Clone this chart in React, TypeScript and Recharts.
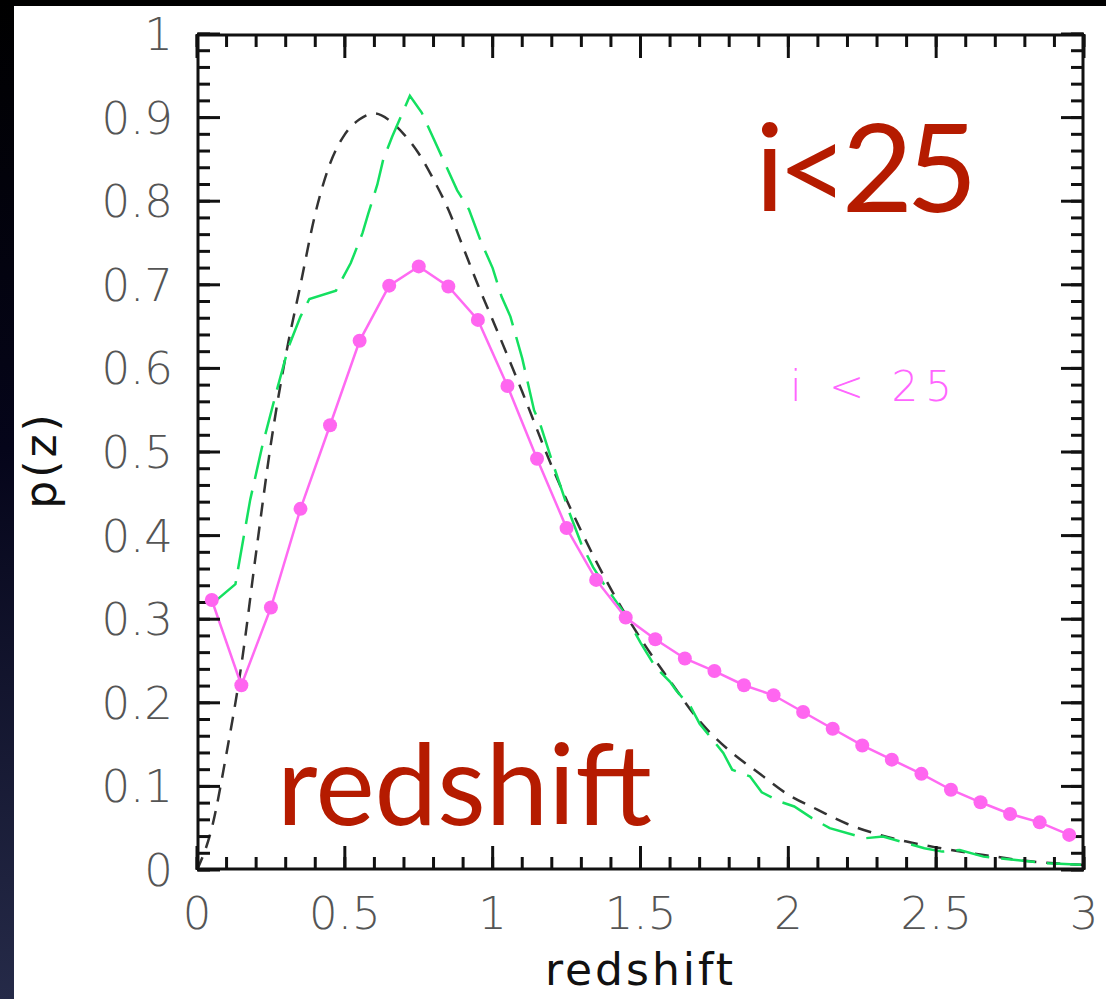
import { LineChart, Line, XAxis, YAxis } from 'recharts';

// binned p(z), one point per 0.1 bin
const binCenters = [
  0.05, 0.15, 0.25, 0.35, 0.45, 0.55, 0.65, 0.75, 0.85, 0.95,
  1.05, 1.15, 1.25, 1.35, 1.45, 1.55, 1.65, 1.75, 1.85, 1.95,
  2.05, 2.15, 2.25, 2.35, 2.45, 2.55, 2.65, 2.75, 2.85, 2.95,
];
const binnedP = [
  0.323, 0.221, 0.314, 0.432, 0.532, 0.633, 0.699, 0.722, 0.698, 0.658,
  0.579, 0.492, 0.409, 0.347, 0.302, 0.276, 0.253, 0.238, 0.221, 0.209,
  0.189, 0.169, 0.149, 0.132, 0.115, 0.096, 0.081, 0.067, 0.057, 0.042,
];

// green long-dashed estimate
const greenZ = [
  0.05, 0.13, 0.18, 0.22, 0.27, 0.31, 0.35, 0.38, 0.47, 0.52, 0.56, 0.58,
  0.61, 0.63, 0.66, 0.72, 0.76, 0.8, 0.88, 0.92, 0.96, 1.0, 1.03, 1.06,
  1.1, 1.14, 1.16, 1.2, 1.26, 1.3, 1.34, 1.38, 1.44, 1.5, 1.55, 1.6,
  1.62, 1.67, 1.7, 1.78, 1.81, 1.87, 1.91, 1.97, 2.02, 2.08, 2.14, 2.26,
  2.32, 2.46, 2.52, 2.58, 2.66, 2.77, 2.88, 3.0,
];
const greenP = [
  0.318, 0.342, 0.443, 0.506, 0.574, 0.626, 0.662, 0.683, 0.693, 0.726, 0.762, 0.786,
  0.82, 0.85, 0.877, 0.926, 0.906, 0.875, 0.813, 0.79, 0.752, 0.72, 0.686, 0.662,
  0.612, 0.55, 0.534, 0.49, 0.427, 0.39, 0.362, 0.34, 0.31, 0.272, 0.243, 0.225,
  0.215, 0.195, 0.175, 0.14, 0.12, 0.112, 0.093, 0.082, 0.076, 0.062, 0.05, 0.038,
  0.04, 0.026, 0.022, 0.024, 0.016, 0.012, 0.008, 0.006,
];

// smooth model curve (black short dashes)
const modelZ = [
  0, 0.05, 0.1, 0.15, 0.2, 0.25, 0.3, 0.35, 0.4, 0.45, 0.5, 0.55, 0.6, 0.65,
  0.7, 0.75, 0.8, 0.85, 0.9, 0.95, 1.0, 1.1, 1.2, 1.3, 1.4, 1.5, 1.6, 1.7,
  1.8, 1.9, 2.0, 2.1, 2.2, 2.3, 2.4, 2.5, 2.6, 2.7, 2.8, 2.9, 3.0,
];
const modelP = [
  0, 0.05, 0.14, 0.245, 0.38, 0.51, 0.615, 0.7, 0.785, 0.845, 0.88, 0.898, 0.905, 0.897,
  0.88, 0.857, 0.826, 0.79, 0.745, 0.7, 0.658, 0.572, 0.483, 0.405, 0.336, 0.277, 0.226, 0.178,
  0.143, 0.116, 0.09, 0.072, 0.055, 0.043, 0.034, 0.027, 0.021, 0.016, 0.011, 0.008, 0.006,
];

const xLabelTicks = [0, 0.5, 1, 1.5, 2, 2.5, 3];
const xMinorTicks = [
  0, 0.1, 0.2, 0.3, 0.4, 0.5, 0.6, 0.7, 0.8, 0.9, 1, 1.1, 1.2, 1.3, 1.4, 1.5,
  1.6, 1.7, 1.8, 1.9, 2, 2.1, 2.2, 2.3, 2.4, 2.5, 2.6, 2.7, 2.8, 2.9, 3,
];
const yLabelTicks = [0, 0.1, 0.2, 0.3, 0.4, 0.5, 0.6, 0.7, 0.8, 0.9, 1];
const yMinorTicks = Array.from({ length: 51 }, (_, i) => Math.round(i * 2) / 100);

const binned = binCenters.map((z, i) => ({ z, p: binnedP[i] }));
const green = greenZ.map((z, i) => ({ z, p: greenP[i] }));
const model = modelZ.map((z, i) => ({ z, p: modelP[i] }));

const tickText = { fill: '#555', fontSize: 45, fontFamily: 'DejaVu Sans', fontWeight: 200 };
const frame = { stroke: '#111', strokeWidth: 3 };
const tickMark = { stroke: '#111', strokeWidth: 3 };
const noLabel = () => <g />;

const XTitle = (props: any) => {
  const vb = props.viewBox || { x: 197, y: 870, width: 887, height: 129 };
  return (
    <text
      x={vb.x + vb.width / 2}
      y={vb.y + vb.height - 14}
      textAnchor="middle"
      fill="#111"
      fontFamily="DejaVu Sans"
      fontSize={44}
      letterSpacing={3}
    >
      redshift
    </text>
  );
};

const YTitle = (props: any) => {
  const vb = props.viewBox || { x: 0, y: 34, width: 197, height: 836 };
  const cx = vb.x + 40;
  const cy = vb.y + vb.height / 2 + 8;
  return (
    <text
      x={cx}
      y={cy}
      transform={`rotate(-90, ${cx}, ${cy})`}
      textAnchor="middle"
      dominantBaseline="central"
      fill="#111"
      fontFamily="DejaVu Sans"
      fontSize={44}
      letterSpacing={3}
    >
      p(z)
    </text>
  );
};

export default function App() {
  return (
    <div
      style={{
        position: 'absolute',
        left: 0,
        top: 0,
        width: 1106,
        height: 999,
        background: 'linear-gradient(to bottom, #000 0%, #05051a 45%, #252a48 100%)',
        overflow: 'hidden',
      }}
    >
      <div style={{ position: 'absolute', left: 14, top: 6, right: 0, bottom: 0, background: '#fff' }} />
      <div style={{ position: 'absolute', left: 0, top: 0 }}>
        <LineChart width={1106} height={999} margin={{ top: 34, right: 22, bottom: 0, left: 0 }}>
          {/* bottom: labels */}
          <XAxis
            dataKey="z"
            type="number"
            domain={[0, 3]}
            allowDataOverflow
            ticks={xLabelTicks}
            interval={0}
            height={129}
            tickLine={false}
            axisLine={false}
            tickSize={0}
            tickMargin={27}
            tick={tickText}
            label={{ content: XTitle }}
          />
          {/* inward ticks on all four sides */}
          <XAxis xAxisId="bMinor" dataKey="z" type="number" domain={[0, 3]} allowDataOverflow ticks={xMinorTicks}
            interval={0} mirror height={1} tick={noLabel} tickSize={12} tickLine={tickMark} axisLine={frame} />
          <XAxis xAxisId="bMajor" dataKey="z" type="number" domain={[0, 3]} allowDataOverflow ticks={xLabelTicks}
            interval={0} mirror height={1} tick={noLabel} tickSize={24} tickLine={tickMark} axisLine={false} />
          <XAxis xAxisId="tMinor" orientation="top" dataKey="z" type="number" domain={[0, 3]} allowDataOverflow
            ticks={xMinorTicks} interval={0} mirror height={1} tick={noLabel} tickSize={12} tickLine={tickMark} axisLine={frame} />
          <XAxis xAxisId="tMajor" orientation="top" dataKey="z" type="number" domain={[0, 3]} allowDataOverflow
            ticks={xLabelTicks} interval={0} mirror height={1} tick={noLabel} tickSize={24} tickLine={tickMark} axisLine={false} />

          <YAxis
            dataKey="p"
            type="number"
            domain={[0, 1]}
            allowDataOverflow
            ticks={yLabelTicks}
            interval={0}
            width={197}
            tickLine={false}
            axisLine={false}
            tickSize={0}
            tickMargin={24}
            tick={tickText}
            label={{ content: YTitle }}
          />
          <YAxis yAxisId="lMinor" dataKey="p" type="number" domain={[0, 1]} allowDataOverflow ticks={yMinorTicks}
            interval={0} mirror width={1} tick={noLabel} tickSize={12} tickLine={tickMark} axisLine={frame} />
          <YAxis yAxisId="lMajor" dataKey="p" type="number" domain={[0, 1]} allowDataOverflow ticks={yLabelTicks}
            interval={0} mirror width={1} tick={noLabel} tickSize={23} tickLine={tickMark} axisLine={false} />
          <YAxis yAxisId="rMinor" orientation="right" dataKey="p" type="number" domain={[0, 1]} allowDataOverflow
            ticks={yMinorTicks} interval={0} mirror width={1} tick={noLabel} tickSize={12} tickLine={tickMark} axisLine={frame} />
          <YAxis yAxisId="rMajor" orientation="right" dataKey="p" type="number" domain={[0, 1]} allowDataOverflow
            ticks={yLabelTicks} interval={0} mirror width={1} tick={noLabel} tickSize={23} tickLine={tickMark} axisLine={false} />

          <Line
            data={model}
            dataKey="p"
            type="monotone"
            stroke="#333"
            strokeWidth={2.5}
            strokeDasharray="14 10"
            dot={false}
            isAnimationActive={false}
          />
          <Line
            data={green}
            dataKey="p"
            type="linear"
            stroke="#14e060"
            strokeWidth={2.5}
            strokeDasharray="34 12"
            dot={false}
            isAnimationActive={false}
          />
          <Line
            data={binned}
            dataKey="p"
            type="linear"
            stroke="#ff6af2"
            strokeWidth={2.5}
            dot={{ r: 7, fill: '#ff66f0', stroke: 'none', strokeWidth: 0 }}
            isAnimationActive={false}
          />
        </LineChart>
      </div>
      <svg width={1106} height={999} style={{ position: 'absolute', left: 0, top: 0, pointerEvents: 'none' }}>
        <text x={790} y={401} fill="#ff66ff" fontFamily="DejaVu Sans" fontWeight={200} fontSize={42} letterSpacing={7}>
          i &lt; 25
        </text>
        <text x={755} y={212} fill="#b51b00" fontFamily="Lato" fontSize={123} letterSpacing={-7}>
          i&lt;25
        </text>
        <text x={277} y={825} fill="#b51b00" fontFamily="Lato" fontSize={112}>
          redshift
        </text>
      </svg>
    </div>
  );
}
